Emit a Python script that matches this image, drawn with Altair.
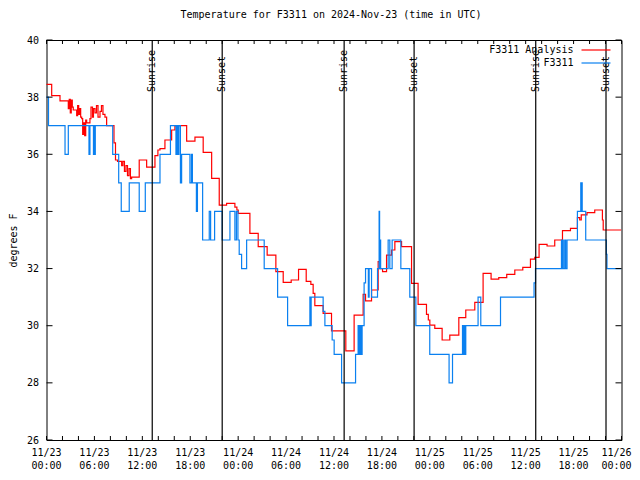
import altair as alt
import pandas as pd

FONT = "DejaVu Sans Mono"

# Observations (F3311), hours since 11/23 00:00 UTC, step values in degrees F
obs_hours = [0.0, 0.25, 2.32, 2.73, 5.32, 5.44, 5.88, 5.94, 6.01, 6.11,
             8.29, 9.04, 9.36, 10.36, 11.61, 12.37, 14.21, 15.52, 16.21, 16.33,
             16.46, 16.58, 16.77, 16.92, 17.96, 18.15, 18.27, 18.77, 18.90, 19.55,
             20.38, 20.55, 21.05, 22.00, 22.97, 23.59, 23.78, 23.97, 24.13, 24.43,
             25.06, 27.26, 28.94, 30.19, 32.98, 33.07, 33.14, 34.64, 34.86, 35.77,
             36.02, 36.95, 38.70, 39.02, 39.15, 39.27, 39.40, 39.52, 39.77, 39.95,
             40.30, 40.40, 40.70, 41.45, 41.65, 41.71, 41.78, 41.84, 42.78, 42.99,
             43.28, 44.37, 45.49, 46.25, 47.99, 50.41, 50.84, 52.09, 52.19, 52.32,
             52.42, 52.50, 54.04, 54.38, 56.85, 61.05, 61.23, 64.48, 64.56, 64.64,
             64.71, 64.89, 65.02, 65.18, 66.48, 66.90, 66.96, 67.02, 67.08, 67.52,
             70.11, 70.18, 71.96]
obs_temps = [38, 37, 36, 37, 36, 37, 36, 37, 36, 37,
             36, 35, 34, 35, 34, 35, 36, 37, 36, 37,
             36, 37, 35, 36, 35, 36, 35, 34, 35, 33,
             34, 33, 34, 33, 34, 33, 34, 33, 32.5, 32,
             33, 32, 31, 30, 31, 30, 31, 30.5, 30, 29.5,
             29, 28, 29, 30, 29, 30, 29, 30, 31.5, 32,
             31, 32, 31, 32, 34, 32, 33, 32, 33, 32,
             33, 32, 31, 30, 29, 28, 29, 30, 29, 30,
             29, 30, 31, 30, 31, 31.5, 32, 33, 32, 33,
             32, 33, 32, 33, 34, 35, 34, 35, 34, 33,
             32.5, 32, 32]

# Analysis (F3311 Analysis)
ana_hours = [0.0, 0.65, 1.69, 2.73, 2.85, 2.98, 3.10, 3.23, 3.35, 3.78,
             3.90, 4.03, 4.16, 4.28, 4.41, 4.53, 4.66, 4.78, 4.91, 5.03,
             5.44, 5.57, 5.76, 5.88, 6.07, 6.26, 6.45, 6.70, 6.88, 7.07,
             7.32, 7.53, 8.45, 8.64, 8.89, 9.41, 9.57, 9.76, 9.95, 10.14,
             10.33, 10.51, 10.66, 11.61, 12.54, 13.58, 13.95, 14.21, 14.83, 15.67,
             16.08, 17.55, 18.59, 19.62, 20.68, 21.63, 22.55, 23.59, 23.84, 24.01,
             25.47, 26.51, 27.63, 28.72, 29.64, 30.64, 31.56, 32.52, 33.10, 33.39,
             33.60, 34.64, 35.69, 37.48, 38.52, 39.65, 39.95, 40.70, 41.53, 41.78,
             42.08, 42.58, 43.20, 43.62, 44.46, 45.71, 46.53, 47.58, 47.81, 48.00,
             48.62, 49.54, 50.50, 51.63, 52.50, 53.63, 54.67, 55.67, 56.63, 57.63,
             58.64, 59.64, 60.60, 61.14, 61.68, 62.68, 63.64, 64.61, 65.61, 66.48,
             66.77, 66.96, 67.68, 68.65, 69.61, 69.71, 71.96]
ana_temps = [38.45, 38.05, 37.87, 37.6, 37.92, 37.45, 37.9, 37.65, 37.55, 37.35,
             37.7, 37.4, 37.6, 37.3, 37.25, 36.7, 37.1, 36.65, 37.2, 37.1,
             37.25, 37.65, 37.3, 37.6, 37.45, 37.7, 37.3, 37.5, 37.7, 37.4,
             37.3, 37.0, 36.4, 35.8, 35.75, 35.6, 35.75, 35.4, 35.6, 35.25,
             35.5, 35.15, 35.2, 35.8, 35.55, 35.95, 36.15, 36.2, 36.5, 36.85,
             37.0, 36.46, 36.6, 36.07, 35.16, 34.22, 34.28, 34.15, 34.05, 33.93,
             33.23, 32.77, 32.47, 31.89, 31.52, 31.6, 31.97, 31.55, 31.45, 31.13,
             30.7, 30.43, 29.82, 29.12, 30.37, 31.1, 30.87, 31.25, 32.24, 32.0,
             31.89, 32.47, 32.65, 32.94, 32.77, 31.48, 30.75, 30.4, 30.2, 30.02,
             29.91, 29.5, 29.67, 30.28, 30.55, 30.82, 31.83, 31.63, 31.68, 31.8,
             31.95, 32.04, 32.33, 32.39, 32.85, 32.79, 33.0, 33.33, 33.41, 33.78,
             33.7, 33.88, 33.96, 34.05, 33.7, 33.35, 33.35]

event_hours = [13.24, 22.0, 37.27, 46.03, 61.26, 70.06]
event_names = ["Sunrise", "Sunset", "Sunrise", "Sunset", "Sunrise", "Sunset"]

x_label_hours = [0, 6, 12, 18, 24, 30, 36, 42, 48, 54, 60, 66, 72]
x_label_dates = ["11/23", "11/23", "11/23", "11/23", "11/24", "11/24", "11/24",
                 "11/24", "11/25", "11/25", "11/25", "11/25", "11/26"]
x_label_times = ["00:00", "06:00", "12:00", "18:00", "00:00", "06:00", "12:00",
                 "18:00", "00:00", "06:00", "12:00", "18:00", "00:00"]
x_minor_hours = list(range(0, 73, 2))
y_ticks = [26, 28, 30, 32, 34, 36, 38, 40]

series_names = ["F3311 Analysis", "F3311"]
series_colors = ["#ff0000", "#0a80f0"]

W, H = 575, 400

obs = pd.DataFrame({"h": obs_hours, "T": obs_temps})
ana = pd.DataFrame({"h": ana_hours, "T": ana_temps})
events = pd.DataFrame({"h": event_hours, "name": event_names})
minor = pd.DataFrame({"h": x_minor_hours})
xlab = pd.DataFrame({"h": x_label_hours, "d": x_label_dates, "t": x_label_times})
xlab_main = xlab.iloc[:-1]
xlab_last = xlab.iloc[-1:]
yt = pd.DataFrame({"T": y_ticks})

xscale = alt.Scale(domain=[0, 72], nice=False, zero=False)
yscale = alt.Scale(domain=[26, 40], nice=False, zero=False)

yaxis = alt.Axis(values=y_ticks, title="degrees F", labelPadding=8,
                 titleX=-33, titleY=200, titleAngle=270,
                 titleAlign="center", titleBaseline="middle")

ana_line = alt.Chart(ana).mark_line(interpolate="step-after", color=series_colors[0],
                                    strokeWidth=1.2).encode(
    x=alt.X("h:Q", scale=xscale, axis=None),
    y=alt.Y("T:Q", scale=yscale, axis=yaxis),
)
obs_line = alt.Chart(obs).mark_line(interpolate="step-after", color=series_colors[1],
                                    strokeWidth=1.2).encode(
    x=alt.X("h:Q"), y=alt.Y("T:Q"))

ev_rules = alt.Chart(events).mark_rule(color="black", strokeWidth=1.2).encode(
    x=alt.X("h:Q"), y=alt.value(0), y2=alt.value(H))
ev_text = alt.Chart(events).mark_text(angle=270, align="left", baseline="middle",
                                      font=FONT, fontSize=10, color="black").encode(
    x=alt.X("h:Q"), y=alt.value(52), text="name:N")

xt_bottom = alt.Chart(minor).mark_rule(color="black").encode(
    x=alt.X("h:Q"), y=alt.value(H), y2=alt.value(H - 4))
xt_top = alt.Chart(minor).mark_rule(color="black").encode(
    x=alt.X("h:Q"), y=alt.value(0), y2=alt.value(4))
yt_left = alt.Chart(yt).mark_rule(color="black").encode(
    y=alt.Y("T:Q"), x=alt.value(0), x2=alt.value(6))
yt_right = alt.Chart(yt).mark_rule(color="black").encode(
    y=alt.Y("T:Q"), x=alt.value(W), x2=alt.value(W - 6))


def tick_labels(df, dx=0):
    d = alt.Chart(df).mark_text(baseline="middle", align="center", font=FONT,
                                fontSize=10, color="black", dx=dx).encode(
        x=alt.X("h:Q"), y=alt.value(H + 13), text="d:N")
    t = alt.Chart(df).mark_text(baseline="middle", align="center", font=FONT,
                                fontSize=10, color="black", dx=dx).encode(
        x=alt.X("h:Q"), y=alt.value(H + 26), text="t:N")
    return [d, t]


label_layers = tick_labels(xlab_main) + tick_labels(xlab_last, dx=-5)

legend_layers = []
for i, (nm, col) in enumerate(zip(series_names, series_colors)):
    ldf = pd.DataFrame({"name": [nm]})
    ypos = 10 + 13 * i
    legend_layers.append(alt.Chart(ldf).mark_text(
        align="right", baseline="middle", font=FONT, fontSize=10, color="black").encode(
        x=alt.value(527), y=alt.value(ypos), text="name:N"))
    legend_layers.append(alt.Chart(ldf).mark_rule(color=col, strokeWidth=1.2).encode(
        x=alt.value(535), x2=alt.value(564), y=alt.value(ypos)))

chart = alt.layer(
    ana_line, obs_line, ev_rules, ev_text, xt_bottom, xt_top, yt_left, yt_right,
    *label_layers, *legend_layers
).properties(
    width=W, height=H,
    title=alt.TitleParams("Temperature for F3311 on 2024-Nov-23 (time in UTC)",
                          font=FONT, fontSize=10, fontWeight="normal", color="black",
                          anchor="middle", frame="group", offset=15, dx=-3),
    autosize=alt.AutoSizeParams(type="none"),
    padding={"left": 38.5, "top": 32, "right": 10.5, "bottom": 32},
).configure_view(stroke="black", strokeWidth=1).configure_axis(
    grid=False, domain=False, ticks=False, labelFont=FONT, labelFontSize=10,
    labelColor="black", titleFont=FONT, titleFontSize=10, titleFontWeight="normal",
    titleColor="black")

chart.save("out.html", embed_options={"renderer": "svg", "actions": False})
